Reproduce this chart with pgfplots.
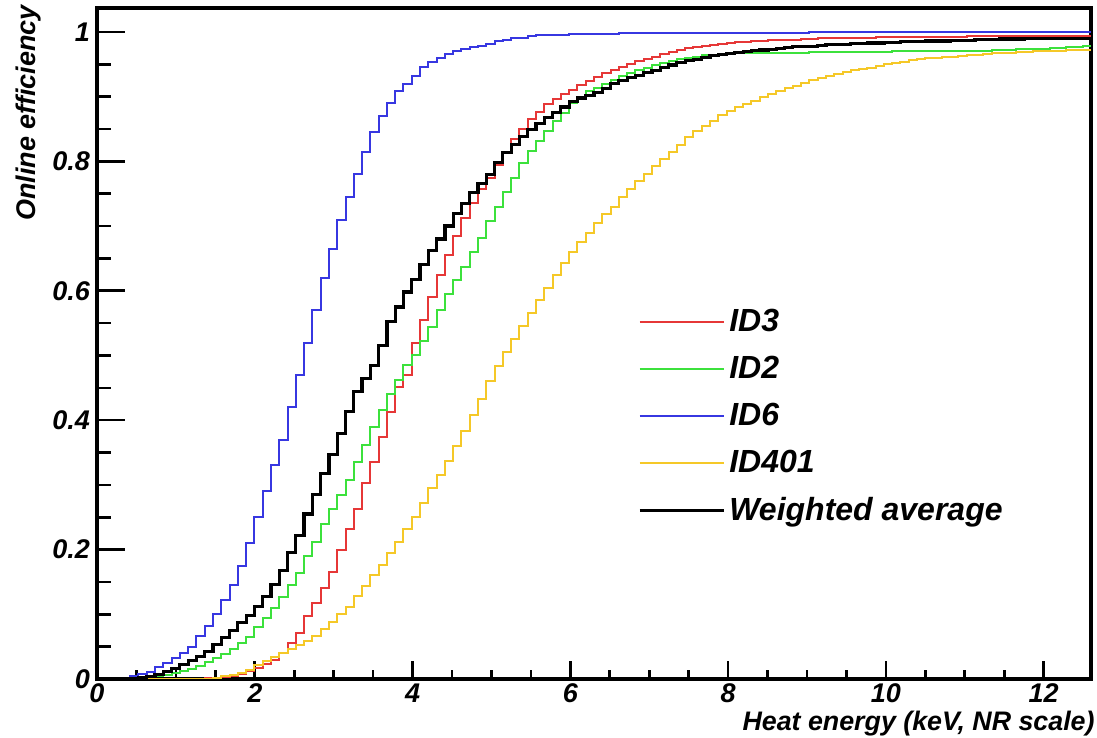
\documentclass[border=0pt]{standalone}
\usepackage{fontspec}
\setmainfont{Liberation Sans}
\usepackage{pgfplots}
\usepackage{pgfplotstable}
\pgfplotsset{compat=1.18}

\definecolor{cID3}{RGB}{230,55,55}
\definecolor{cID2}{RGB}{60,225,60}
\definecolor{cID6}{RGB}{55,55,225}
\definecolor{cID401}{RGB}{245,200,40}

% online efficiency per heat-energy bin (bin low edge, keV NR)
\pgfplotstableread{
x id3 id2 id6 id401 avg
0.000 0 0 0 0 0
0.105 0 0 0 0 0
0.210 0 0 0 0 0
0.315 0 0 0.002 0 0
0.420 0 0 0.004 0 0
0.525 0 0 0.007 0 0.002
0.630 0 0.002 0.011 0 0.004
0.735 0 0.004 0.018 0 0.007
0.840 0 0.006 0.024 0 0.011
0.945 0 0.009 0.032 0 0.016
1.050 0 0.012 0.040 0 0.022
1.155 0 0.016 0.050 0 0.028
1.260 0 0.020 0.066 0 0.035
1.365 0.001 0.026 0.082 0 0.043
1.470 0.002 0.032 0.100 0.002 0.053
1.575 0.003 0.039 0.122 0.004 0.064
1.680 0.005 0.046 0.145 0.006 0.075
1.785 0.008 0.055 0.175 0.010 0.087
1.890 0.012 0.065 0.210 0.014 0.098
1.995 0.017 0.080 0.250 0.021 0.112
2.100 0.023 0.095 0.290 0.028 0.127
2.205 0.030 0.110 0.330 0.034 0.146
2.310 0.040 0.127 0.370 0.040 0.168
2.415 0.055 0.145 0.420 0.046 0.195
2.520 0.071 0.164 0.470 0.052 0.222
2.625 0.098 0.190 0.520 0.059 0.255
2.730 0.118 0.212 0.570 0.067 0.285
2.835 0.140 0.240 0.620 0.078 0.318
2.940 0.165 0.262 0.665 0.088 0.347
3.045 0.200 0.284 0.710 0.100 0.380
3.150 0.232 0.308 0.745 0.112 0.413
3.255 0.262 0.335 0.780 0.128 0.444
3.360 0.303 0.362 0.815 0.143 0.465
3.465 0.335 0.390 0.845 0.160 0.485
3.570 0.374 0.416 0.870 0.176 0.515
3.675 0.412 0.440 0.890 0.195 0.553
3.780 0.452 0.462 0.908 0.212 0.575
3.885 0.470 0.485 0.920 0.232 0.598
3.990 0.520 0.500 0.932 0.250 0.618
4.095 0.555 0.522 0.946 0.272 0.640
4.200 0.590 0.544 0.953 0.295 0.662
4.305 0.625 0.570 0.960 0.315 0.680
4.410 0.655 0.595 0.966 0.337 0.700
4.515 0.685 0.616 0.970 0.360 0.720
4.620 0.712 0.636 0.973 0.383 0.735
4.725 0.735 0.660 0.976 0.408 0.752
4.830 0.757 0.682 0.979 0.433 0.766
4.935 0.775 0.708 0.982 0.460 0.780
5.040 0.795 0.730 0.986 0.484 0.798
5.145 0.815 0.752 0.988 0.505 0.814
5.250 0.834 0.775 0.990 0.525 0.826
5.355 0.850 0.797 0.991 0.545 0.838
5.460 0.865 0.816 0.993 0.565 0.849
5.565 0.877 0.832 0.995 0.585 0.858
5.670 0.888 0.847 0.995 0.605 0.868
5.775 0.897 0.863 0.996 0.625 0.876
5.880 0.904 0.875 0.996 0.643 0.884
5.985 0.911 0.890 0.997 0.660 0.892
6.090 0.918 0.900 0.997 0.675 0.898
6.195 0.924 0.908 0.997 0.690 0.902
6.300 0.930 0.914 0.997 0.704 0.907
6.405 0.936 0.920 0.997 0.718 0.913
6.510 0.941 0.926 0.997 0.730 0.920
6.615 0.946 0.932 0.998 0.745 0.925
6.720 0.951 0.937 0.998 0.758 0.929
6.825 0.955 0.941 0.998 0.770 0.933
6.930 0.958 0.945 0.998 0.781 0.937
7.035 0.962 0.949 0.998 0.793 0.941
7.140 0.966 0.952 0.998 0.804 0.945
7.245 0.969 0.955 0.998 0.815 0.949
7.350 0.972 0.958 0.998 0.826 0.953
7.455 0.975 0.960 0.999 0.837 0.956
7.560 0.977 0.962 0.999 0.847 0.958
7.665 0.979 0.964 0.999 0.855 0.961
7.770 0.980 0.965 0.999 0.863 0.963
7.875 0.982 0.966 0.999 0.871 0.965
7.980 0.983 0.967 0.999 0.878 0.967
8.085 0.984 0.968 0.999 0.884 0.968
8.190 0.985 0.968 0.999 0.889 0.970
8.295 0.986 0.968 0.999 0.894 0.971
8.400 0.986 0.968 0.999 0.899 0.972
8.505 0.987 0.968 0.999 0.904 0.973
8.610 0.987 0.968 0.999 0.909 0.975
8.715 0.988 0.968 0.999 0.913 0.976
8.820 0.988 0.968 0.999 0.917 0.977
8.925 0.989 0.968 0.999 0.921 0.978
9.030 0.989 0.969 1 0.925 0.978
9.135 0.990 0.969 1 0.929 0.979
9.240 0.990 0.969 1 0.932 0.980
9.345 0.990 0.969 1 0.935 0.981
9.450 0.991 0.969 1 0.938 0.981
9.555 0.991 0.969 1 0.941 0.982
9.660 0.991 0.969 1 0.943 0.982
9.765 0.991 0.969 1 0.945 0.983
9.870 0.992 0.969 1 0.948 0.983
9.975 0.992 0.969 1 0.950 0.984
10.080 0.992 0.970 1 0.952 0.984
10.185 0.992 0.970 1 0.954 0.985
10.290 0.992 0.970 1 0.956 0.985
10.395 0.992 0.970 1 0.958 0.985
10.500 0.992 0.970 1 0.959 0.986
10.605 0.992 0.970 1 0.960 0.986
10.710 0.992 0.970 1 0.961 0.986
10.815 0.992 0.970 1 0.962 0.987
10.920 0.992 0.971 1 0.963 0.987
11.025 0.993 0.971 1 0.964 0.987
11.130 0.993 0.971 1 0.965 0.988
11.235 0.993 0.971 1 0.966 0.988
11.340 0.993 0.972 1 0.967 0.988
11.445 0.993 0.972 1 0.968 0.989
11.550 0.993 0.972 1 0.968 0.989
11.655 0.993 0.973 1 0.969 0.989
11.760 0.993 0.973 1 0.969 0.990
11.865 0.993 0.974 1 0.970 0.990
11.970 0.993 0.974 1 0.970 0.990
12.075 0.993 0.975 1 0.971 0.990
12.180 0.993 0.975 1 0.971 0.990
12.285 0.993 0.976 1 0.972 0.990
12.390 0.993 0.977 1 0.972 0.990
12.495 0.993 0.978 1 0.972 0.990
12.600 0.993 0.978 1 0.972 0.990
}\effdata

\begin{document}
\begin{tikzpicture}
\pgfplotsset{
  rootframe/.style={
    width=497pt, height=335.5pt, scale only axis,
    xmin=0, xmax=12.6, ymin=0, ymax=1.037,
    tick align=inside,
    every tick/.style={black, line width=1.3pt},
    /pgf/number format/assume math mode=true,
    tick label style={font=\bfseries\itshape\fontsize{13.5}{15}\selectfont},
  }
}
% x ticks (shorter in ROOT style)
\begin{axis}[rootframe,
  axis line style={draw=none},
  ytick=\empty,
  xtick={0,2,4,6,8,10,12}, minor x tick num=3, xtick pos=bottom,
  major tick length=9pt, minor tick length=4.5pt,
  xticklabel style={yshift=1pt},
  xlabel={Heat energy (keV, NR scale)},
  xlabel style={at={(rel axis cs:1,0)}, anchor=base east, yshift=-25.5pt, xshift=3pt,
    inner sep=1pt, font=\bfseries\itshape\fontsize{13.4}{15}\selectfont},
]
\end{axis}
\begin{axis}[rootframe,
  axis line style={line width=1.6pt},
  xtick=\empty,
  ytick={0,0.2,0.4,0.6,0.8,1}, minor y tick num=3, ytick pos=left,
  major tick length=14pt, minor tick length=7pt,
  every axis y label/.style={at={(rel axis cs:0,1)}, xshift=-34pt, yshift=5pt,
    rotate=90, anchor=east, font=\bfseries\itshape\fontsize{13.5}{15}\selectfont},
  ylabel={Online efficiency},
  legend style={at={(0.544,0.557)}, anchor=north west, draw=none, fill=none,
    inner sep=0pt, row sep=6.8pt,
    font=\bfseries\itshape\fontsize{16}{18}\selectfont},
  legend cell align=left,
  legend image code/.code={\draw[#1, sharp plot] (0pt,0pt) -- (30pt,0pt); \path (0pt,0pt) -- (42pt,0pt);},
]
\coordinate (sw) at (rel axis cs:0,0);
\coordinate (ne) at (rel axis cs:1,1);
\addplot[const plot, cID3, line width=1pt] table[x=x, y=id3] {\effdata};
\addplot[const plot, cID2, line width=1pt] table[x=x, y=id2] {\effdata};
\addplot[const plot, cID6, line width=1pt] table[x=x, y=id6] {\effdata};
\addplot[const plot, cID401, line width=1pt] table[x=x, y=id401] {\effdata};
\addplot[const plot, black, line width=1.6pt] table[x=x, y=avg] {\effdata};
\legend{ID3, ID2, ID6, ID401, Weighted average}
\end{axis}
\pgfresetboundingbox
\path ([shift={(-48.5pt,-29.5pt)}]sw) rectangle ([shift={(3pt,4pt)}]ne);
\end{tikzpicture}
\end{document}
